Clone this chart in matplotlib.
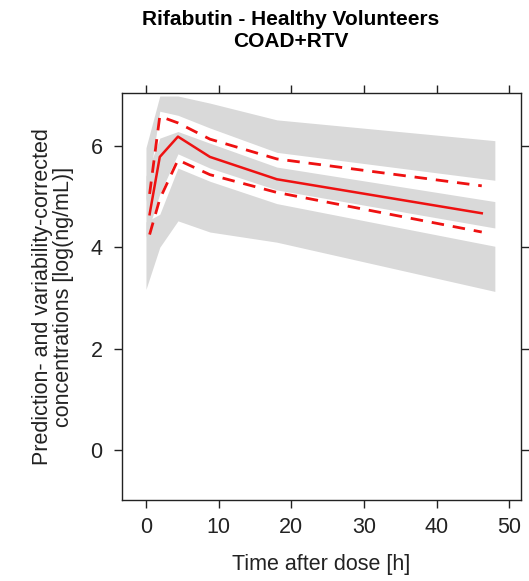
import numpy as np
import matplotlib
matplotlib.use("Agg")
import matplotlib.pyplot as plt

plt.rcParams['font.family'] = ['Liberation Sans', 'DejaVu Sans']

# observed percentiles at bin midpoints
obs_time = [0.5, 1.9, 4.4, 8.8, 18.0, 46.2]
obs_p50 = [4.65, 5.78, 6.18, 5.78, 5.34, 4.67]
obs_p95 = [5.05, 6.58, 6.45, 6.13, 5.74, 5.21]
obs_p05 = [4.25, 4.95, 5.72, 5.43, 5.08, 4.30]

# simulated prediction intervals (95% CI of each percentile)
band_time = [0.0, 1.9, 4.4, 8.8, 18.0, 48.0]
hi_lo = [4.90, 6.68, 6.60, 6.35, 5.87, 5.32]
hi_up = [5.96, 6.98, 6.98, 6.84, 6.51, 6.10]
mid_lo = [4.20, 5.05, 5.84, 5.56, 5.13, 4.38]
mid_up = [5.40, 6.15, 6.28, 6.05, 5.58, 4.90]
lo_lo = [3.17, 4.00, 4.52, 4.30, 4.10, 3.13]
lo_up = [4.50, 4.65, 5.56, 5.30, 4.86, 4.02]

band_col = '#d9d9d9'
red = '#ee1111'

fig = plt.figure(figsize=(5.29, 5.81), dpi=100)
ax = fig.add_axes([0.2306, 0.1394, 0.7543, 0.7006])

for lo, up in [(hi_lo, hi_up), (mid_lo, mid_up), (lo_lo, lo_up)]:
    ax.fill_between(band_time, lo, up, color=band_col, lw=0)

ax.plot(obs_time, obs_p50, color=red, lw=1.8)
ax.plot(obs_time, obs_p95, color=red, lw=2, linestyle=(0, (4.5, 3.2)))
ax.plot(obs_time, obs_p05, color=red, lw=2, linestyle=(0, (4.5, 3.2)))

ax.set_xlim(-3.3, 51.6)
ax.set_ylim(-0.98, 7.04)
ax.set_xticks([0, 10, 20, 30, 40, 50])
ax.set_yticks([0, 2, 4, 6])

ax.tick_params(direction='out', length=6, width=1, color='#222222',
               labelsize=15.5, labelcolor='#222222', top=True, right=True,
               labeltop=False, labelright=False)
ax.tick_params(axis='y', pad=8)
ax.tick_params(axis='x', pad=6)
for sp in ax.spines.values():
    sp.set_linewidth(1)
    sp.set_color('#222222')

ax.set_xlabel('Time after dose [h]', fontsize=15.5, labelpad=12, color='#222222')
ax.set_ylabel('Prediction- and variability-corrected\nconcentrations [log(ng/mL)]',
              fontsize=15.5, labelpad=12, color='#222222', linespacing=1.0)

fig.text(0.55, 0.982, 'Rifabutin - Healthy Volunteers\nCOAD+RTV', ha='center', va='top',
         fontsize=15, fontweight='bold', linespacing=1.15)

fig.savefig('out.png', dpi=100)
